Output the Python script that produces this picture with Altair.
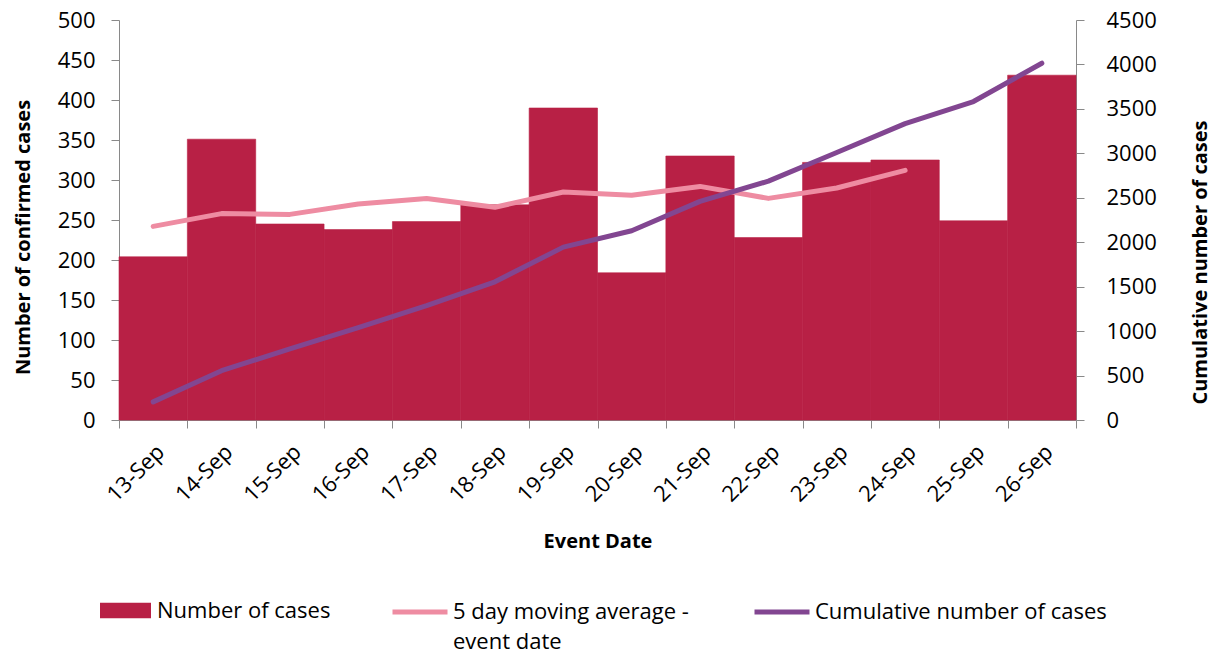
import altair as alt
import pandas as pd

dates = ["13-Sep", "14-Sep", "15-Sep", "16-Sep", "17-Sep", "18-Sep", "19-Sep",
         "20-Sep", "21-Sep", "22-Sep", "23-Sep", "24-Sep", "25-Sep", "26-Sep"]
cases = [204, 351, 245, 238, 248, 269, 390, 184, 330, 228, 322, 325, 249, 431]
moving_avg = [242, 258, 257, 270, 277, 266, 285, 281, 292, 277, 290, 312, None, None]
cumulative = [204, 555, 800, 1038, 1286, 1555, 1945, 2129, 2459, 2687, 3009, 3334, 3583, 4014]

left_ticks = list(range(0, 501, 50))
right_ticks = list(range(0, 4501, 500))

S_BAR = "Number of cases"
S_MA = "5 day moving average - event date"
S_CUM = "Cumulative number of cases"

BAR = "#B82045"
PINK = "#EE8CA2"
PURPLE = "#824691"
GREY = "#898989"
FONT = "Open Sans"

df = pd.DataFrame({"date": dates, "cases": cases, "ma": moving_avg, "cum": cumulative,
                   "s_bar": S_BAR, "s_ma": S_MA, "s_cum": S_CUM})

xenc = alt.X("date:N", sort=dates,
             scale=alt.Scale(paddingInner=0, paddingOuter=0),
             axis=alt.Axis(title="Event Date", labelAngle=315, tickBand="extent",
                           tickSize=8, labelPadding=13, titlePadding=26,
                           domainColor=GREY, tickColor=GREY))

left_axis = alt.Axis(title="Number of confirmed cases", values=left_ticks,
                     orient="left", tickSize=8, labelPadding=16, titlePadding=24,
                     titleY=217, labelOverlap=False, format="d",
                     domainColor=GREY, tickColor=GREY)
left_scale = alt.Scale(domain=[0, 500], nice=False)

base = alt.Chart(df)

bars = base.mark_bar(stroke=BAR, strokeWidth=0.6).encode(
    x=xenc,
    y=alt.Y("cases:Q", scale=left_scale, axis=left_axis),
    fill=alt.Fill("s_bar:N",
                  scale=alt.Scale(domain=[S_BAR], range=[BAR]),
                  legend=alt.Legend(title=None, orient="none", legendX=-19, legendY=565,
                                    symbolType="M-1,-0.3H1V0.3H-1Z", symbolSize=2601,
                                    symbolStrokeWidth=0, labelOffset=6, padding=0)),
)

ma_line = base.mark_line(strokeWidth=5, strokeCap="round", strokeJoin="round").encode(
    x=alt.X("date:N", sort=dates),
    y=alt.Y("ma:Q", scale=left_scale, axis=left_axis),
    stroke=alt.Stroke("s_ma:N",
                      scale=alt.Scale(domain=[S_MA], range=[PINK]),
                      legend=alt.Legend(title=None, orient="none", legendX=271, legendY=562,
                                        symbolType="stroke", symbolSize=3025,
                                        symbolStrokeWidth=5, labelOffset=3, padding=0,
                                        labelExpr="['5 day moving average -', 'event date']")),
)

cum_line = base.mark_line(strokeWidth=5, strokeCap="round", strokeJoin="round").encode(
    x=alt.X("date:N", sort=dates),
    y=alt.Y("cum:Q", scale=alt.Scale(domain=[0, 4500], nice=False),
            axis=alt.Axis(title="Cumulative number of cases", values=right_ticks,
                          orient="right", tickSize=8, labelPadding=22, titlePadding=54,
                          titleAngle=270, titleY=242, labelOverlap=False, format="d",
                          domainColor=GREY, tickColor=GREY)),
    color=alt.Color("s_cum:N",
                    scale=alt.Scale(domain=[S_CUM], range=[PURPLE]),
                    legend=alt.Legend(title=None, orient="none", legendX=633, legendY=562,
                                      symbolType="stroke", symbolSize=3025,
                                      symbolStrokeWidth=5, labelOffset=3, padding=0)),
)

left = alt.layer(bars, ma_line)
chart = alt.layer(left, cum_line).resolve_scale(y="independent").properties(
    width=957, height=400,
    autosize=alt.AutoSizeParams(type="none"),
    padding={"left": 111, "top": 12, "right": 137, "bottom": 236},
).configure_view(stroke=None).configure_axis(
    grid=False, labelFont=FONT, labelFontSize=22, labelColor="#000000",
    titleFont=FONT, titleFontSize=20, titleFontWeight="bold", titleColor="#000000",
).configure_legend(
    labelFont=FONT, labelFontSize=22, labelColor="#000000", labelLimit=400,
)
chart.config.style = {"guide-label": {"lineHeight": 30}}

chart.save("out.html", embed_options={"renderer": "svg", "actions": False})
